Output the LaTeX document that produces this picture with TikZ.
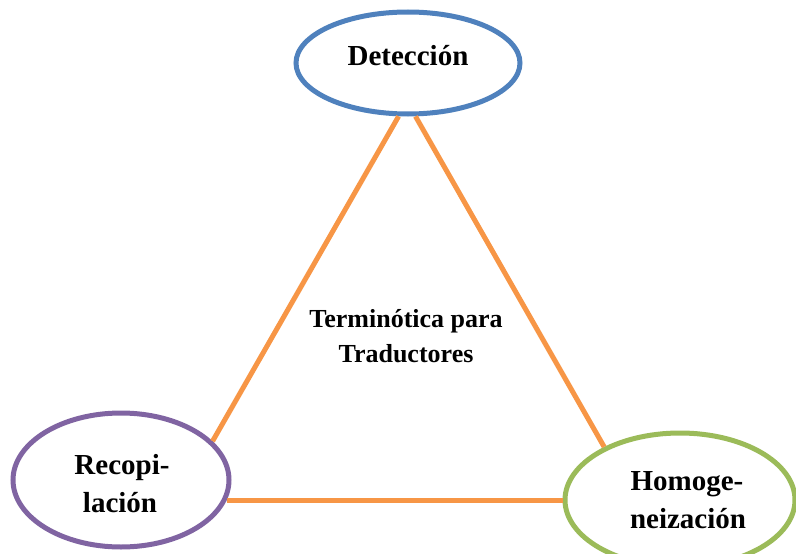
\documentclass[tikz,border=0pt]{standalone}
\usepackage{fontspec}
\setmainfont{Liberation Serif}
\usetikzlibrary{shapes.geometric}
\definecolor{cblue}{HTML}{4F81BD}
\definecolor{cpurple}{HTML}{8064A2}
\definecolor{cgreen}{HTML}{9BBB59}
\definecolor{corange}{HTML}{F79646}
\tikzset{
  ell/.style={ellipse, draw=#1, line width=5pt, fill=white, inner sep=0pt},
  lbl/.style={anchor=base, inner sep=0pt, font=\bfseries\fontsize{29}{34}\selectfont},
  clbl/.style={anchor=base, inner sep=0pt, font=\bfseries\fontsize{26}{31}\selectfont},
  link/.style={draw=corange, line width=5pt}
}
\begin{document}
\begin{tikzpicture}[x=1pt,y=-1pt]
\useasboundingbox (0,0) rectangle (796,554);
\clip (0,0) rectangle (796,554);
\node[ell=cblue, minimum width=224pt, minimum height=102pt] (det) at (408,63) {};
\node[ell=cpurple, minimum width=216pt, minimum height=134pt] (rec) at (121,480) {};
\node[ell=cgreen, minimum width=230pt, minimum height=134pt] (hom) at (680,500) {};
\draw[link] (det.260) -- (rec.23);
\draw[link] (det.278) -- (hom.145);
\draw[link] (hom.west) -- (hom.west -| rec.349);
\node[lbl] (detl) at (408,65) {Detección};
\node[lbl] (rec1) at (122,474) {Recopi-};
\node[lbl] (rec2) at (120,512) {lación};
\node[lbl] (hom1) at (687,490) {Homoge-};
\node[lbl] (hom2) at (688,528) {neización};
\node[clbl] (c1) at (406,327) {Terminótica para};
\node[clbl] (c2) at (406,362) {Traductores};
\end{tikzpicture}
\end{document}
